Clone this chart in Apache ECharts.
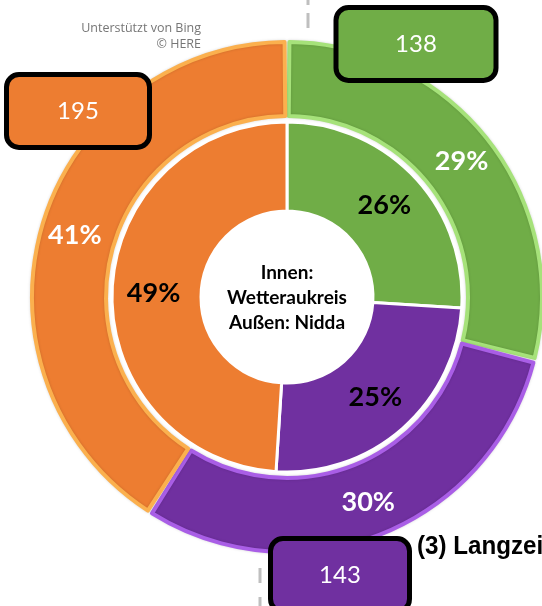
<!DOCTYPE html>
<html>
<head>
<meta charset="utf-8">
<script src="https://cdn.jsdelivr.net/npm/echarts@6/dist/echarts.min.js"></script>
<style>
html,body{margin:0;padding:0;background:#fff;}
#chart{width:542px;height:606px;}
</style>
</head>
<body>
<div id="chart"></div>
<script>
// Data
const categories = ['Kategorie 1', 'Kategorie 2', 'Kategorie 3'];
const innerValues = [26, 25, 49];      // Innen: Wetteraukreis (%)
const outerValues = [138, 143, 195];   // Außen: Nidda (Anzahl)
const centerLines = ['Innen:', 'Wetteraukreis', 'Außen: Nidda'];

// Styles / layout (not data)
const baseColors = ['#70AD47', '#7030A0', '#ED7D31'];
const edgeColors = ['#A6E27A', '#A95EE6', '#FBB04E'];
const boxPos = [[416, 44], [340, 575], [78, 111]];
const boxWidth = [155, 134, 138];
const C = [287, 297];

const chart = echarts.init(document.getElementById('chart'), null, {renderer: 'canvas'});

const pctFmt = p => Math.round(p.percent) + '%';

const option = {
  animation: false,
  backgroundColor: '#ffffff',
  series: [
    {
      type: 'pie',
      center: C,
      radius: [86, 175],
      startAngle: 90,
      clockwise: true,
      silent: true,
      data: innerValues.map((v, i) => ({
        value: v, name: categories[i],
        itemStyle: {color: baseColors[i]}
      })),
      itemStyle: {borderColor: '#ffffff', borderWidth: 3},
      label: {
        show: true, position: 'inside', formatter: pctFmt,
        color: '#000', fontSize: 27, fontWeight: 'bold',
        fontFamily: 'Lato, "Open Sans", sans-serif'
      },
      labelLine: {show: false}
    },
    {
      type: 'pie',
      center: C,
      radius: [181, 255],
      startAngle: 90,
      clockwise: true,
      padAngle: 1.1,
      silent: true,
      data: outerValues.map((v, i) => ({
        value: v, name: categories[i],
        itemStyle: {color: baseColors[i], borderColor: edgeColors[i]}
      })),
      itemStyle: {borderWidth: 4, shadowBlur: 3, shadowColor: 'rgba(0,0,0,0.15)'},
      label: {
        show: true, position: 'inside', formatter: pctFmt,
        color: '#fff', fontSize: 27, fontWeight: 'bold',
        fontFamily: 'Lato, "Open Sans", sans-serif'
      },
      labelLine: {show: false}
    },
    {
      type: 'pie',
      center: C,
      radius: [181, 255],
      startAngle: 90,
      clockwise: true,
      silent: true,
      z: 5,
      data: outerValues.map((v, i) => ({
        value: v, name: categories[i],
        itemStyle: {color: 'rgba(0,0,0,0)'},
        label: {backgroundColor: baseColors[i], width: boxWidth[i]}
      })),
      label: {
        show: true, position: 'outside', formatter: '{c}',
        color: '#fff', fontSize: 24, fontFamily: 'Lato, "Open Sans", sans-serif',
        height: 68, lineHeight: 68, align: 'center', verticalAlign: 'middle',
        borderColor: '#000', borderWidth: 5, borderRadius: 10, padding: 0
      },
      labelLine: {show: false},
      labelLayout: p => ({
        x: boxPos[p.dataIndex][0], y: boxPos[p.dataIndex][1],
        align: 'center', verticalAlign: 'middle'
      })
    }
  ],
  graphic: [
    {
      type: 'text', x: C[0], y: C[1] + 1,
      style: {
        text: centerLines.join('\n'), align: 'center', verticalAlign: 'middle',
        font: 'bold 19px Lato, "Open Sans", sans-serif', lineHeight: 25, fill: '#000'
      }
    },
    {
      type: 'text', x: 201, y: 28,
      style: {
        text: 'Unterstützt von Bing', align: 'right', verticalAlign: 'middle',
        font: '12.5px "Open Sans", sans-serif', fill: '#767676'
      }
    },
    {
      type: 'text', x: 201, y: 44,
      style: {
        text: '© HERE', align: 'right', verticalAlign: 'middle',
        font: '12.5px "Open Sans", sans-serif', fill: '#767676'
      }
    },
    {
      type: 'text', x: 417, y: 547, scaleX: 0.93,
      style: {
        text: '(3) Langzeit', align: 'left', verticalAlign: 'middle',
        font: 'bold 26px "Liberation Sans Narrow", "Liberation Sans", sans-serif', fill: '#000'
      }
    },
    {
      type: 'line', shape: {x1: 308, y1: -10, x2: 308, y2: 28},
      style: {stroke: '#BFBFBF', lineWidth: 3, lineDash: [15, 8]}
    },
    {
      type: 'line', shape: {x1: 260, y1: 568, x2: 260, y2: 620},
      style: {stroke: '#BFBFBF', lineWidth: 3, lineDash: [15, 14]}
    }
  ]
};
chart.setOption(option);
</script>
</body>
</html>
